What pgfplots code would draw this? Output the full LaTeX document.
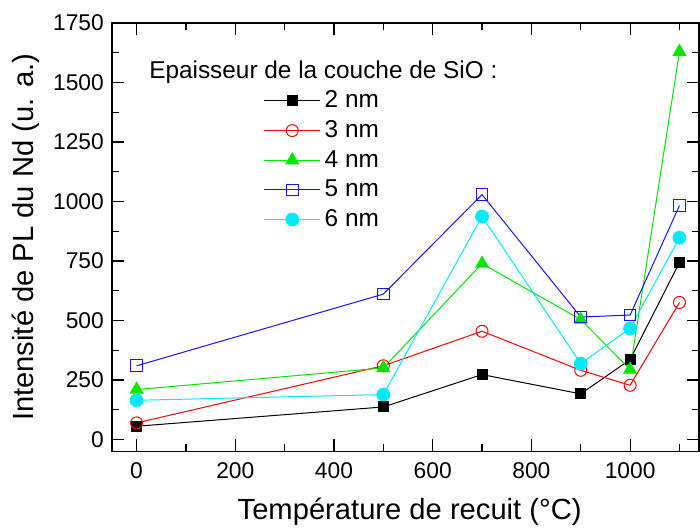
\documentclass[border=0pt]{standalone}
\usepackage{fontspec}
\setmainfont{Liberation Sans}
\usepackage{pgfplots}
\pgfplotsset{compat=1.18}
\definecolor{cgreen}{RGB}{0,230,0}
\definecolor{myblue}{RGB}{20,20,255}
\definecolor{ccyan}{RGB}{0,235,245}
\definecolor{cred}{RGB}{255,0,0}
\begin{document}
\begin{tikzpicture}
\begin{axis}[
  scale only axis,
  width=294pt, height=214.5pt,
  xmin=-50, xmax=1140, ymin=-50, ymax=1750,
  xtick={0,200,400,600,800,1000},
  minor xtick={100,300,500,700,900,1100},
  ytick={0,250,500,750,1000,1250,1500,1750},
  minor ytick={125,375,625,875,1125,1375,1625},
  tick align=inside,
  major tick length=6pt, minor tick length=3.5pt,
  tick style={black, line width=0.6pt},
  axis line style={line width=0.8pt},
  /pgf/number format/assume math mode=true,
  /pgf/number format/set thousands separator={},
  tick label style={font=\fontsize{11.4}{13}\selectfont},
  xticklabel style={yshift=-2pt},
  yticklabel style={xshift=-0.5pt},
  xlabel={Température de recuit (°C)},
  ylabel={Intensité de PL du Nd (u. a.)},
  every axis x label/.style={at={(axis description cs:0.507,0)}, yshift=-30pt, anchor=center, font=\fontsize{14.6}{16}\selectfont},
  every axis y label/.style={at={(axis description cs:0,0.5)}, xshift=-43pt, anchor=center, rotate=90, font=\fontsize{14.6}{16}\selectfont},
  legend style={draw=none, fill=none, at={(axis description cs:0.258,0.852)}, anchor=north west,
    font=\fontsize{12.2}{14}\selectfont, row sep=0.9pt, inner sep=0pt},
  legend cell align=left,
  legend image code/.code={\draw[mark repeat=2,mark phase=2] plot coordinates {(0pt,0pt) (14pt,0pt) (28pt,0pt)};},
  every axis plot/.append style={line width=0.5pt},
]
\addplot[color=black, mark=square*, mark size=2.5pt, mark options={solid,fill=black}] coordinates {
(0,56) (500,137) (700,273) (900,192) (1000,336) (1100,744)};
\addlegendentry{2 nm}
\addplot[color=cred, mark=o, mark size=3pt, mark options={fill=white}] coordinates {
(0,70) (500,310) (700,455) (900,291) (1000,228) (1100,576)};
\addlegendentry{3 nm}
\addplot[color=cgreen, mark=triangle*, mark size=3.6pt, mark options={fill=cgreen}] coordinates {
(0,210) (500,301) (700,739) (900,504) (1000,294) (1100,1629)};
\addlegendentry{4 nm}
\addplot[color=myblue, mark=square, mark size=2.9pt, mark options={draw=myblue, fill=white}] coordinates {
(0,310) (500,611) (700,1029) (900,515) (1000,523) (1100,983)};
\addlegendentry{5 nm}
\addplot[color=ccyan, mark=*, mark size=3.2pt, mark options={fill=ccyan}] coordinates {
(0,165) (500,189) (700,937) (900,319) (1000,467) (1100,848)};
\addlegendentry{6 nm}
\node[anchor=west, font=\fontsize{12.2}{14}\selectfont, inner sep=0pt] at (axis description cs:0.063,0.886) {Epaisseur de la couche de SiO :};
\end{axis}
\pgfresetboundingbox
\path[use as bounding box] (-56pt,-38pt) rectangle (294.4pt,226pt);
\end{tikzpicture}
\end{document}
